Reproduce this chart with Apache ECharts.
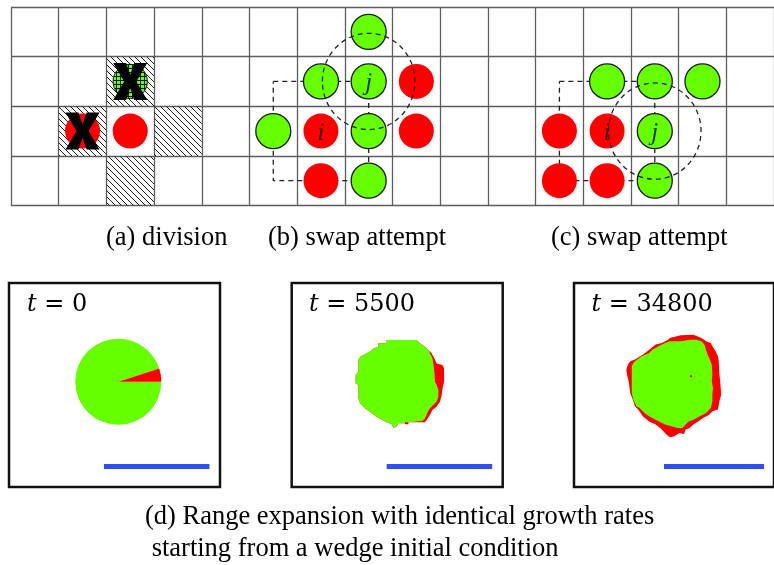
<!DOCTYPE html>
<html>
<head>
<meta charset="utf-8">
<script src="https://cdn.jsdelivr.net/npm/echarts@6/dist/echarts.min.js"></script>
<style>
  html, body { margin: 0; padding: 0; background: #fff; }
  #chart { width: 774px; height: 565px; }
</style>
</head>
<body>
<div id="chart"></div>
<script>
// ---- lattice panels (a)-(c): cells given as [column, row] ----
const latticeCols = 16;
const latticeRows = 4;
const hatchedCells = [[2, 1], [1, 2], [3, 2], [2, 3]];
const dividingCells = [[2, 1]];
const removedCells = [[2, 1], [1, 2]];
const greenCells = [[7, 0], [6, 1], [7, 1], [5, 2], [7, 2], [7, 3],
                    [12, 1], [13, 1], [14, 1], [13, 2], [13, 3]];
const redCells = [[1, 2], [2, 2], [6, 2], [8, 1], [8, 2], [6, 3],
                  [11, 2], [12, 2], [11, 3], [12, 3]];
const ringB = [[5, 1], [7, 1], [7, 3], [5, 3], [5, 1]];
const ringC = [[11, 1], [13, 1], [13, 3], [11, 3], [11, 1]];
const neighbourhoodCentres = [[7, 1], [13, 2]];
const cellTags = [['i', 6, 2], ['j', 7, 1], ['i', 12, 2], ['j', 13, 2]];
const panelLabels = ['(a) division', '(b) swap attempt', '(c) swap attempt'];

// ---- range-expansion snapshots (box units, y measured downward) ----
const snapshotTimes = ['0', '5500', '34800'];
const disc0 = [51.8, 46.8, 20.4];          // centre x, centre y, radius
const wedgeDegrees = 18;
const front5500 = [[45.0,27.0],[59.2,27.0],[60.8,28.6],[63.2,30.2],[64.8,31.8],[66.3,33.3],[67.6,35.7],[68.7,38.1],[71.4,38.9],[72.2,40.4],[72.2,46.8],[71.5,49.9],[71.1,53.1],[70.3,56.2],[68.7,58.6],[66.7,60.2],[65.5,62.6],[64.0,64.9],[63.2,66.0],[61.6,66.0],[55.3,66.0],[55.3,67.0],[53.7,67.0],[53.7,66.5],[50.5,66.5],[49.7,68.1],[48.2,68.6],[47.4,67.0],[44.2,65.7],[40.3,63.4],[37.9,61.8],[34.7,59.4],[32.4,57.0],[31.6,54.7],[31.6,48.3],[30.3,47.5],[30.3,43.6],[31.6,42.0],[31.6,36.5],[32.4,34.9],[35.5,33.3],[37.1,32.5],[38.7,31.0],[41.1,30.2],[41.1,28.6],[45.0,28.6]];
const colony5500 = [[45.0,27.0],[59.2,27.0],[60.8,28.6],[63.2,30.2],[64.8,31.8],[65.5,33.3],[66.7,35.7],[67.1,38.1],[67.6,42.0],[67.9,46.8],[68.7,48.3],[69.5,50.7],[69.5,53.9],[68.7,56.2],[67.1,57.8],[65.5,59.4],[64.4,61.3],[63.2,64.1],[61.9,65.4],[55.3,66.0],[53.7,66.0],[53.7,66.5],[50.5,66.5],[49.7,68.1],[48.2,68.6],[47.4,67.0],[44.2,65.7],[40.3,63.4],[37.9,61.8],[34.7,59.4],[32.4,57.0],[31.6,54.7],[31.6,48.3],[30.3,47.5],[30.3,43.6],[31.6,42.0],[31.6,36.5],[32.4,34.9],[35.5,33.3],[37.1,32.5],[38.7,31.0],[41.1,30.2],[41.1,28.6],[45.0,28.6]];
const front34800 = [[47.9,26.1],[53.4,24.8],[59.7,24.5],[63.7,26.1],[66.0,27.6],[68.4,28.4],[69.2,30.0],[70.8,32.4],[72.0,34.8],[72.4,37.1],[72.7,43.4],[73.1,46.6],[73.6,52.9],[72.7,56.1],[72.0,60.0],[69.2,60.8],[67.6,62.4],[64.5,64.0],[62.1,65.6],[59.7,67.1],[57.8,68.7],[55.8,69.5],[55.0,71.6],[52.6,71.1],[50.2,72.7],[47.9,73.1],[46.3,71.9],[44.7,70.3],[43.1,68.7],[40.8,67.1],[37.6,65.6],[34.4,63.2],[32.1,60.0],[30.5,58.5],[29.4,55.3],[28.1,52.1],[27.8,49.8],[27.3,46.6],[26.5,43.4],[26.2,41.1],[26.9,38.7],[28.1,37.1],[30.5,36.3],[32.9,34.8],[34.4,34.0],[37.6,31.6],[40.8,29.2],[43.9,28.4],[47.1,26.9]];
const colony34800 = [[47.9,27.6],[53.4,27.6],[58.1,26.9],[61.3,26.9],[63.7,27.6],[65.2,29.2],[66.0,31.6],[66.8,34.0],[67.9,36.3],[68.9,38.7],[69.2,43.4],[68.9,46.6],[69.5,49.8],[69.2,52.9],[69.2,56.1],[68.4,59.2],[66.0,61.6],[62.9,63.2],[59.7,64.8],[57.3,65.6],[55.8,67.1],[54.2,68.7],[51.8,68.7],[48.7,67.9],[45.5,67.1],[43.1,65.9],[40.8,64.8],[37.6,63.2],[35.2,61.6],[32.9,59.2],[31.3,58.5],[29.7,55.3],[28.9,52.1],[28.9,46.6],[28.9,39.5],[29.7,37.9],[30.5,37.1],[33.6,34.8],[37.6,33.2],[39.2,31.6],[42.3,30.0],[45.5,28.4]];
const seedCell34800 = [[58.5, 44.2]];
const scaleBar = [[45, 87], [95, 87]];
const captionLines = ['(d) Range expansion with identical growth rates', ' starting from a wedge initial condition'];

const GREEN = '#66ff00';
const RED = '#ff0000';
const BLUE = '#2f50f0';
const INK = '#1a1a1a';

// diagonal hatching for occupied-target cells
function makeHatch() {
  const c = document.createElement('canvas');
  c.width = 6; c.height = 6;
  const g = c.getContext('2d');
  g.strokeStyle = '#222';
  g.lineWidth = 1;
  g.beginPath();
  g.moveTo(-1, -1); g.lineTo(7, 7);
  g.moveTo(-1, 5); g.lineTo(1, 7);
  g.moveTo(5, -1); g.lineTo(7, 1);
  g.stroke();
  return c;
}
// green mesh for the dividing cell
function makeMesh() {
  const c = document.createElement('canvas');
  c.width = 4; c.height = 4;
  const g = c.getContext('2d');
  g.fillStyle = GREEN; g.fillRect(0, 0, 4, 4);
  g.fillStyle = '#111'; g.fillRect(0, 0, 4, 1); g.fillRect(0, 0, 1, 4);
  return c;
}
const hatchFill = { image: makeHatch(), repeat: 'repeat' };
const meshFill = { image: makeMesh(), repeat: 'repeat' };

const centre = c => [c[0] + 0.5, c[1] + 0.5];
const crossPath = 'path://M0,0 L38,0 L50,32 L62,0 L100,0 L68,50 L100,100 L62,100 L50,68 L38,100 L0,100 L32,50 Z';

const boxLefts = [9, 291.7, 574];
const grids = [{ left: 11, top: 7, width: latticeCols * 48.35, height: 198.5 }];
const xAxes = [{
  gridIndex: 0, type: 'value', min: 0, max: latticeCols, interval: 1,
  axisLine: { show: false }, axisTick: { show: false }, axisLabel: { show: false },
  splitLine: { show: true, lineStyle: { color: '#5e5e5e', width: 1.3 } }
}];
const yAxes = [{
  gridIndex: 0, type: 'value', min: 0, max: latticeRows, interval: 1, inverse: true,
  axisLine: { show: false }, axisTick: { show: false }, axisLabel: { show: false },
  splitLine: { show: true, lineStyle: { color: '#5e5e5e', width: 1.3 } }
}];
boxLefts.forEach((left, k) => {
  grids.push({ left: left, top: 283, width: 211, height: 204, show: true,
    borderColor: '#111', borderWidth: 2.5, backgroundColor: 'transparent' });
  xAxes.push({ gridIndex: k + 1, type: 'value', min: 0, max: 100, show: false });
  yAxes.push({ gridIndex: k + 1, type: 'value', min: 0, max: 96.7, inverse: true, show: false });
});

const series = [];

// hatched target cells
series.push({
  type: 'custom', xAxisIndex: 0, yAxisIndex: 0, z: 1, silent: true,
  data: hatchedCells,
  renderItem(params, api) {
    const a = api.coord([api.value(0), api.value(1)]);
    const b = api.coord([api.value(0) + 1, api.value(1) + 1]);
    return { type: 'rect', shape: { x: a[0], y: a[1], width: b[0] - a[0], height: b[1] - a[1] },
      style: { fill: hatchFill } };
  }
});

// neighbourhood rings of cell i
[ringB, ringC].forEach(ring => {
  series.push({
    type: 'line', xAxisIndex: 0, yAxisIndex: 0, z: 2, symbol: 'none', silent: true,
    data: ring.map(centre),
    lineStyle: { color: '#222', width: 1.3, type: [5, 4] }
  });
});

// cells
series.push({
  type: 'scatter', xAxisIndex: 0, yAxisIndex: 0, z: 3, symbolSize: 35, silent: true,
  data: redCells.map(centre), itemStyle: { color: RED, opacity: 1 }
});
series.push({
  type: 'scatter', xAxisIndex: 0, yAxisIndex: 0, z: 3, symbolSize: 35, silent: true,
  data: greenCells.map(centre), itemStyle: { color: GREEN, borderColor: INK, borderWidth: 1.3, opacity: 1 }
});
// dividing cell, filled with a mesh
series.push({
  type: 'custom', xAxisIndex: 0, yAxisIndex: 0, z: 3, silent: true,
  data: dividingCells,
  renderItem(params, api) {
    const c = api.coord([api.value(0) + 0.5, api.value(1) + 0.5]);
    const r = api.size([0.36, 0])[0];
    return { type: 'circle', shape: { cx: c[0], cy: c[1], r: r },
      style: { fill: meshFill, stroke: INK, lineWidth: 1 } };
  }
});
series.push({
  type: 'scatter', xAxisIndex: 0, yAxisIndex: 0, z: 4, symbol: crossPath, symbolSize: [34, 37], silent: true,
  data: removedCells.map(centre), itemStyle: { color: '#000', opacity: 1 }
});

// von Neumann neighbourhood of j
series.push({
  type: 'custom', xAxisIndex: 0, yAxisIndex: 0, z: 5, silent: true,
  data: neighbourhoodCentres,
  renderItem(params, api) {
    const c = api.coord([api.value(0) + 0.5, api.value(1) + 0.5]);
    const s = api.size([1, 1]);
    return { type: 'ellipse', shape: { cx: c[0], cy: c[1], rx: s[0] * 0.97, ry: s[1] * 0.97 },
      style: { fill: null, stroke: '#222', lineWidth: 1.3, lineDash: [5, 4] } };
  }
});

// i / j tags
series.push({
  type: 'scatter', xAxisIndex: 0, yAxisIndex: 0, z: 6, symbolSize: 1, silent: true,
  itemStyle: { color: 'transparent' },
  data: cellTags.map(t => ({ name: t[0], value: [t[1] + 0.5, t[2] + 0.5] })),
  label: { show: true, position: 'inside', formatter: '{b}', color: '#000',
    fontFamily: 'Liberation Serif', fontStyle: 'italic', fontSize: 25, offset: [0, 2] }
});

// t = 0 : disc with a wedge of the red strain
series.push({
  type: 'custom', xAxisIndex: 1, yAxisIndex: 1, z: 2, silent: true,
  data: [disc0],
  renderItem(params, api) {
    const c = api.coord([api.value(0), api.value(1)]);
    const r = api.size([api.value(2), 0])[0];
    const w = wedgeDegrees * Math.PI / 180;
    return { type: 'group', children: [
      { type: 'sector', shape: { cx: c[0], cy: c[1], r0: 0, r: r, startAngle: 0, endAngle: 2 * Math.PI - w, clockwise: true }, style: { fill: GREEN } },
      { type: 'sector', shape: { cx: c[0], cy: c[1], r0: 0, r: r, startAngle: -w, endAngle: 0, clockwise: true }, style: { fill: RED } }
    ] };
  }
});

function patch(gridIdx, pts, color, z) {
  return {
    type: 'custom', xAxisIndex: gridIdx, yAxisIndex: gridIdx, z: z, silent: true,
    data: pts,
    renderItem(params, api) {
      if (params.dataIndex !== 0) return null;
      return { type: 'polygon', shape: { points: pts.map(p => api.coord(p)) }, style: { fill: color } };
    }
  };
}
series.push(patch(2, front5500, RED, 2));
series.push(patch(2, colony5500, GREEN, 3));
series.push(patch(3, front34800, RED, 2));
series.push(patch(3, colony34800, GREEN, 3));
series.push({
  type: 'scatter', xAxisIndex: 3, yAxisIndex: 3, z: 4, symbol: 'rect', symbolSize: 2, silent: true,
  data: seedCell34800, itemStyle: { color: RED, opacity: 1 }
});

// scale bars
[1, 2, 3].forEach(k => {
  series.push({
    type: 'line', xAxisIndex: k, yAxisIndex: k, z: 2, symbol: 'none', silent: true,
    data: scaleBar, lineStyle: { color: BLUE, width: 5, cap: 'butt' }
  });
});

const serif = 'Liberation Serif';
const graphic = [];
const labelX = [106, 268, 551];
panelLabels.forEach((txt, k) => {
  graphic.push({ type: 'text', x: labelX[k], y: 238, silent: true,
    style: { text: txt, fontFamily: serif, fontSize: 26.5, fill: '#000', align: 'left', verticalAlign: 'middle' } });
});
const timeX = [27, 309, 591.5];
snapshotTimes.forEach((t, k) => {
  graphic.push({ type: 'text', x: timeX[k], y: 305, silent: true,
    style: { text: '{v|t}{n| = ' + t + '}', align: 'left', verticalAlign: 'middle', fill: '#000',
      rich: {
        v: { fontFamily: 'DejaVu Serif', fontStyle: 'italic', fontSize: 24, fill: '#000' },
        n: { fontFamily: 'DejaVu Serif', fontSize: 24, fill: '#000' }
      } } });
});
captionLines.forEach((line, k) => {
  graphic.push({ type: 'text', x: 145, y: 517 + 32 * k, silent: true,
    style: { text: line, fontFamily: serif, fontSize: 26.5, fill: '#000', align: 'left', verticalAlign: 'middle' } });
});

const chart = echarts.init(document.getElementById('chart'), null, { renderer: 'canvas' });
chart.setOption({
  animation: false,
  backgroundColor: '#ffffff',
  grid: grids,
  xAxis: xAxes,
  yAxis: yAxes,
  series: series,
  graphic: graphic
});
</script>
</body>
</html>
